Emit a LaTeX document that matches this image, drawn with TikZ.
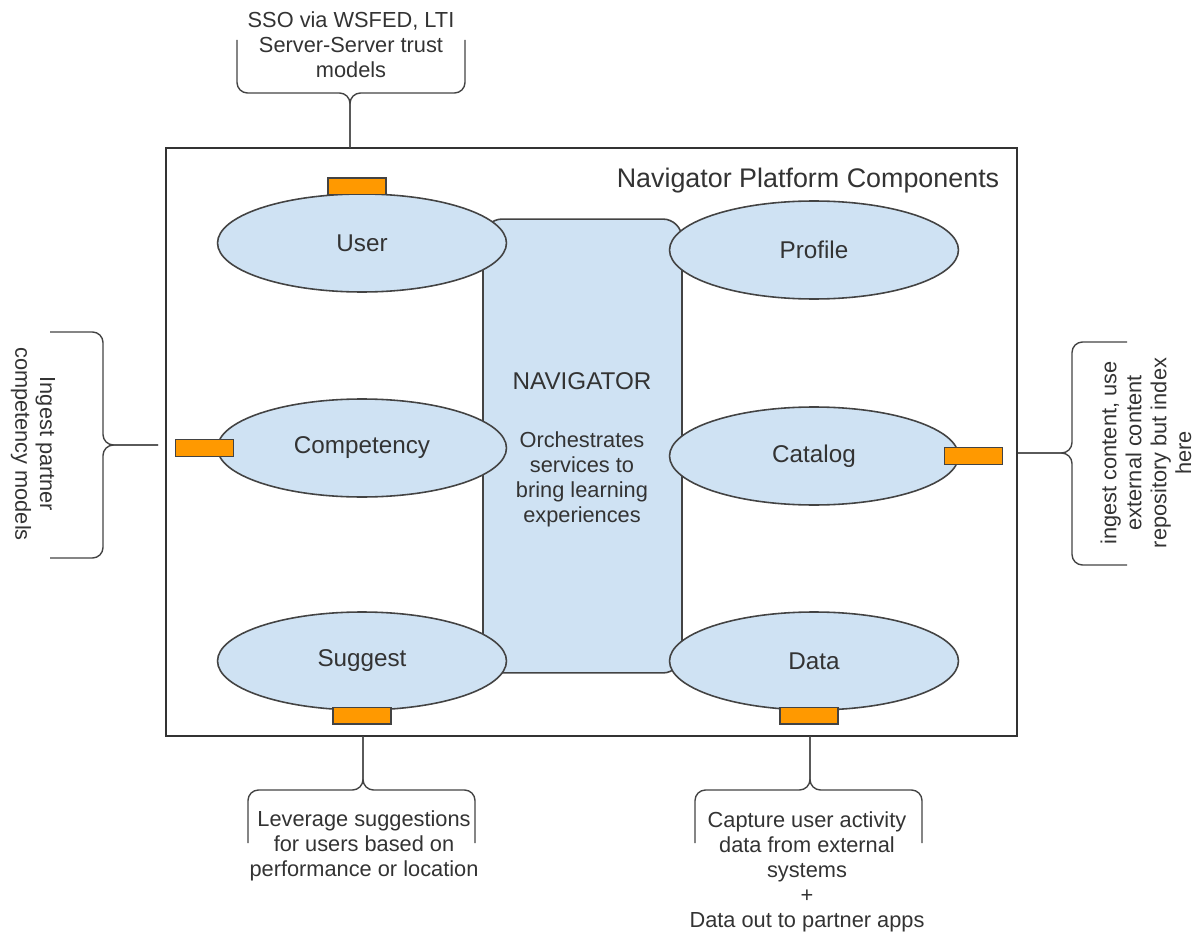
\documentclass[tikz,border=0pt]{standalone}
\usepackage{fontspec}
\setmainfont{Liberation Sans}
\usetikzlibrary{positioning,shapes.geometric}
\definecolor{linegray}{HTML}{434343}
\definecolor{textgray}{HTML}{333333}
\definecolor{lightblue}{HTML}{CFE2F3}
\definecolor{portorange}{HTML}{FF9900}
\tikzset{
  platformbox/.style={draw=textgray, line width=0.8pt, minimum width=17.02cm, minimum height=11.76cm, inner sep=0pt},
  component/.style={draw=linegray, ellipse, fill=lightblue, line width=0.9pt, minimum width=5.78cm, minimum height=1.96cm, text=textgray, font=\fontsize{13.8}{16}\selectfont},
  orchestrator/.style={draw=linegray, rounded corners=11pt, fill=lightblue, line width=0.9pt, minimum width=3.98cm, minimum height=9.08cm, inner sep=0pt},
  port/.style={draw=linegray, fill=portorange, line width=0.7pt, minimum width=1.16cm, minimum height=0.33cm, inner sep=0pt},
  note/.style={align=center, inner sep=0pt, text=textgray, font=\fontsize{12.4}{14.2}\selectfont},
  callbrace/.style={draw=linegray, line width=0.8pt, rounded corners=6pt}
}
\begin{document}
\begin{tikzpicture}[x=0.02cm, y=-0.02cm]
  \useasboundingbox (0,0) rectangle (1201,936);

  % platform frame and orchestrator
  \node[platformbox] (platform) at (591.5,442) {};
  \node[textgray, inner sep=0pt, font=\fontsize{15.3}{18}\selectfont] (title) at (808,181) {Navigator Platform Components};
  \node[orchestrator] (nav) at (582.5,446) {};
  \node[note] (navtext) at (582,450) {{\fontsize{13.8}{16}\selectfont NAVIGATOR}\\[19pt]Orchestrates\\services to\\bring learning\\experiences};

  % components
  \node[component] (user) at (362,243) {User};
  \node[component] (profile) at (814,250) {Profile};
  \node[component] (competency) at (362,448) {Competency};
  \node[component] (catalog) at (814,456) {Catalog};
  \node[component] (suggest) at (362,661) {Suggest};
  \node[component] (data) at (814,661) {Data};

  % integration ports
  \node[port, above=-0.04cm of user, xshift=-0.1cm] (userport) {};
  \node[port] (compport) at ([xshift=-0.24cm]competency.west) {};
  \node[port] (catport) at ([xshift=0.28cm]catalog.east) {};
  \node[port, below=-0.08cm of suggest] (suggport) {};
  \node[port, below=-0.08cm of data, xshift=-0.1cm] (dataport) {};

  % callouts
  \node[note] (ssonote) at (351,45) {SSO via WSFED, LTI\\Server-Server trust\\models};
  \node[note, rotate=-90] (compnote) at (33,444) {Ingest partner\\competency models};
  \node[note, rotate=90] (catnote) at (1146,453) {ingest content, use\\external content\\repository but index\\here};
  \node[note] (suggnote) at (364,846) {Leverage suggestions\\for users based on\\performance or location};
  \node[note] (datanote) at (807,872) {Capture user activity\\data from external\\systems\\+\\Data out to partner apps};

  \coordinate (ssotip) at (350,148);
  \coordinate (comptip) at (158,445);
  \coordinate (cattip) at (1018,453);
  \coordinate (suggtip) at (363,736);
  \coordinate (datatip) at (810,736);

  % braces
  \draw[callbrace] (237,40) |- (350,93) -- (ssotip);
  \draw[callbrace] (465,40) |- (350,93) -- (ssotip);
  \draw[callbrace] (50,332) -| (103,445) -- (comptip);
  \draw[callbrace] (50,558) -| (103,445) -- (comptip);
  \draw[callbrace] (1127,342) -| (1072,453) -- (cattip);
  \draw[callbrace] (1127,565) -| (1072,453) -- (cattip);
  \draw[callbrace] (248,843) |- (363,790) -- (suggtip);
  \draw[callbrace] (475,843) |- (363,790) -- (suggtip);
  \draw[callbrace] (695,843) |- (810,790) -- (datatip);
  \draw[callbrace] (922,843) |- (810,790) -- (datatip);
\end{tikzpicture}
\end{document}
